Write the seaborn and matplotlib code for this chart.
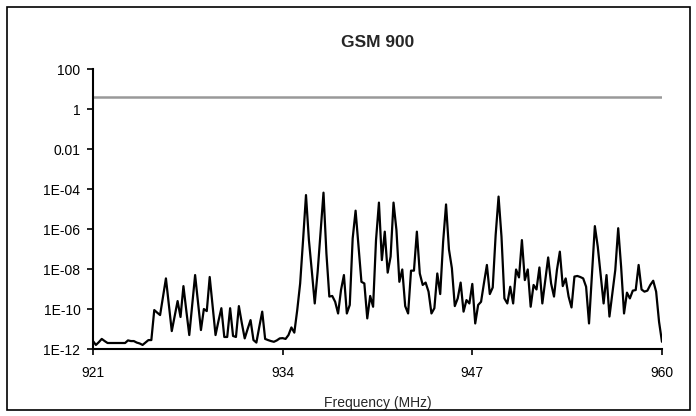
import numpy as np
import pandas as pd
import matplotlib
matplotlib.use("Agg")
import matplotlib.pyplot as plt
from matplotlib.patches import Rectangle
import seaborn as sns

# dados: canais GSM de 200 kHz entre 921 e 960 MHz
freq_mhz = np.round(np.arange(921.0, 960.0001, 0.2), 1)

power = [
    2.5e-12, 1.6e-12, 2.2e-12, 3.2e-12, 2.5e-12, 2.0e-12, 2.0e-12, 2.0e-12, 2.0e-12, 2.0e-12,
    2.0e-12, 2.0e-12, 2.7e-12, 2.5e-12, 2.5e-12, 2.1e-12, 1.9e-12, 1.6e-12, 2.1e-12, 2.8e-12,
    2.8e-12, 8.9e-11, 6.6e-11, 5.0e-11, 4.0e-10, 3.4e-9, 1.6e-10, 7.9e-12, 4.5e-11, 2.5e-10,
    4.0e-11, 1.4e-9, 7.9e-11, 5.0e-12, 1.6e-10, 5.0e-9, 2.0e-10, 8.9e-12, 1.0e-10, 7.9e-11,
    4.0e-9, 1.4e-10, 5.0e-12, 2.5e-11, 1.1e-10, 4.0e-12, 4.0e-12, 1.1e-10, 4.5e-12, 4.0e-12,
    1.4e-10, 2.0e-11, 3.4e-12, 1.0e-11, 2.8e-11, 2.8e-12, 2.1e-12, 1.3e-11, 7.4e-11, 3.2e-12,
    2.8e-12, 2.5e-12, 2.3e-12, 2.7e-12, 3.4e-12, 3.5e-12, 3.2e-12, 5.0e-12, 1.2e-11, 6.6e-12,
    8.9e-11, 1.9e-9, 2.8e-7, 5.0e-5, 2.8e-7, 7.9e-9, 1.9e-10, 7.4e-9, 7.4e-7, 6.6e-5,
    6.0e-8, 4.2e-10, 4.5e-10, 2.3e-10, 6.0e-11, 8.9e-10, 5.0e-9, 6.0e-11, 1.6e-10, 3.4e-7,
    8.3e-6, 1.3e-7, 2.3e-9, 1.9e-9, 3.4e-11, 4.5e-10, 1.3e-10, 2.8e-7, 2.1e-5, 2.8e-8,
    7.4e-7, 6.6e-9, 4.2e-8, 2.1e-5, 8.9e-7, 2.3e-9, 9.5e-9, 1.4e-10, 6.0e-11, 8.3e-9,
    8.3e-9, 7.4e-7, 6.0e-9, 1.6e-9, 2.1e-9, 7.4e-10, 6.0e-11, 1.1e-10, 6.0e-9, 5.6e-10,
    2.3e-7, 1.7e-5, 9.5e-8, 1.1e-8, 1.4e-10, 3.4e-10, 2.1e-9, 7.4e-11, 2.8e-10, 1.9e-10,
    1.8e-9, 1.9e-11, 1.6e-10, 2.3e-10, 2.0e-9, 1.6e-8, 5.6e-10, 1.2e-9, 5.0e-7, 4.2e-5,
    4.2e-7, 3.4e-10, 1.9e-10, 1.3e-9, 1.9e-10, 9.5e-9, 3.8e-9, 2.8e-7, 2.8e-9, 9.5e-9,
    1.3e-10, 1.6e-9, 9.5e-10, 1.2e-8, 1.9e-10, 2.8e-9, 3.8e-8, 1.9e-9, 4.2e-10, 8.9e-9,
    7.4e-8, 1.4e-9, 3.4e-9, 4.2e-10, 1.2e-10, 4.2e-9, 4.5e-9, 4.0e-9, 3.4e-9, 1.3e-9,
    1.9e-11, 5.0e-9, 1.4e-6, 1.3e-7, 5.0e-9, 1.9e-10, 5.0e-9, 4.2e-11, 6.3e-10, 8.9e-9,
    1.1e-6, 1.3e-8, 6.0e-11, 6.6e-10, 3.4e-10, 8.3e-10, 8.9e-10, 1.6e-8, 9.5e-10, 7.4e-10,
    8.3e-10, 1.6e-9, 2.6e-9, 7.4e-10, 2.3e-11, 2.3e-12,
]

limite = 4.0  # linha de referencia cinza

x_ticks = [921, 934, 947, 960]
y_ticks = [1e2, 1e0, 1e-2, 1e-4, 1e-6, 1e-8, 1e-10, 1e-12]
y_tick_labels = ["100", "1", "0.01", "1E-04", "1E-06", "1E-08", "1E-10", "1E-12"]

df = pd.DataFrame({"freq": freq_mhz, "power": power})

sns.set_style("ticks")
plt.rcParams["font.family"] = ["Liberation Sans", "DejaVu Sans"]

fig = plt.figure(figsize=(6.96, 4.16), dpi=100)
ax = fig.add_axes([0.1336, 0.161, 0.8175, 0.673])

ax.axhline(limite, color="#999999", lw=1.8)
sns.lineplot(data=df, x="freq", y="power", ax=ax, color="black", lw=1.6)

ax.set_yscale("log")
ax.set_xlim(921, 960)
ax.set_ylim(1e-12, 1e2)
ax.set_xticks(x_ticks)
ax.set_xticklabels([str(t) for t in x_ticks])
ax.set_yticks(y_ticks)
ax.set_yticklabels(y_tick_labels)
ax.yaxis.set_minor_locator(matplotlib.ticker.NullLocator())
ax.tick_params(axis="both", direction="out", length=4, width=1.2, labelsize=10, colors="black")
ax.tick_params(axis="y", pad=5)
ax.tick_params(axis="x", pad=8)

for side in ["top", "right"]:
    ax.spines[side].set_visible(False)
for side in ["left", "bottom"]:
    ax.spines[side].set_linewidth(1.5)
    ax.spines[side].set_color("black")

ax.set_title("GSM 900", fontsize=12.5, fontweight="bold", pad=16)
ax.set_xlabel("Frequency (MHz)", fontsize=10, labelpad=12)
ax.set_ylabel("")

# moldura da figura
fig.patches.append(Rectangle((0.01, 0.014), 0.981, 0.969, transform=fig.transFigure,
                             fill=False, edgecolor="black", lw=1.2))

fig.savefig("out.png", dpi=100)
